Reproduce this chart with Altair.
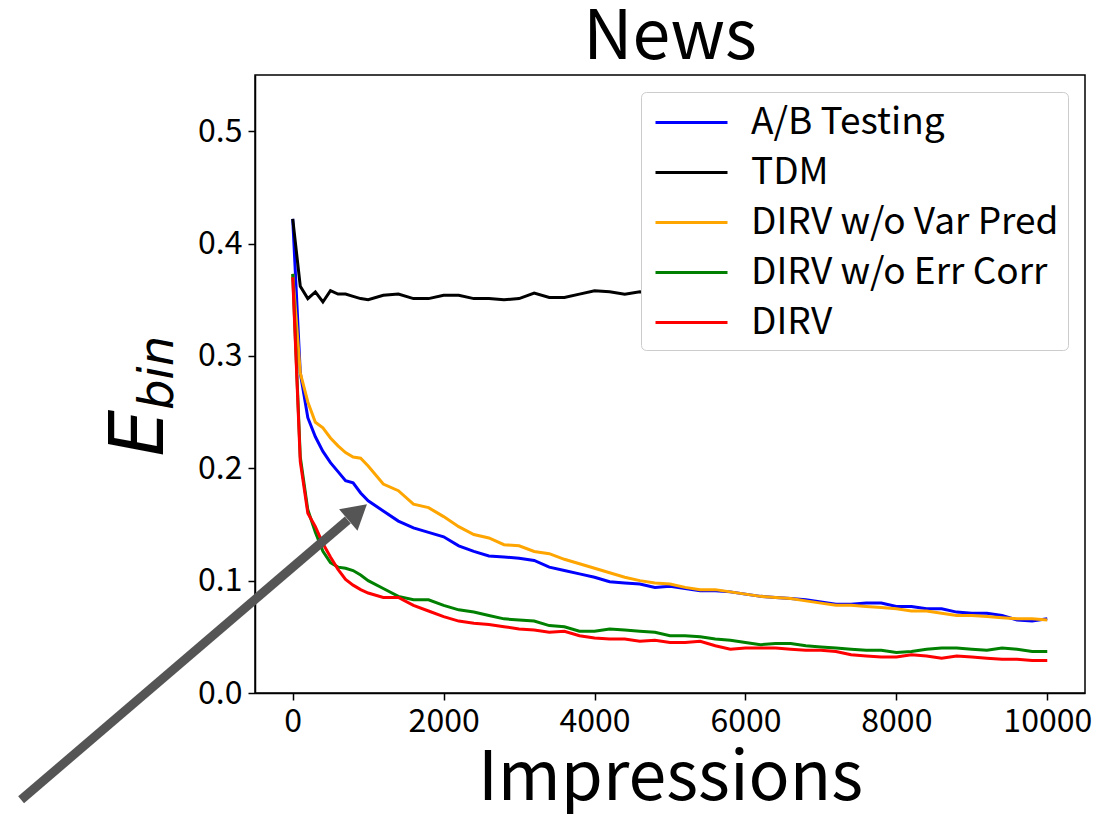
import altair as alt
import pandas as pd

IMPRESSIONS = [0, 100, 200, 300, 400, 500, 600, 700, 800, 900, 1000,
               1200, 1400, 1600, 1800, 2000, 2200, 2400, 2600, 2800, 3000,
               3200, 3400, 3600, 3800, 4000, 4200, 4400, 4600, 4800, 5000,
               5200, 5400, 5600, 5800, 6000, 6200, 6400, 6600, 6800, 7000,
               7200, 7400, 7600, 7800, 8000, 8200, 8400, 8600, 8800, 9000,
               9200, 9400, 9600, 9800, 10000]

AB_TESTING = [0.422, 0.285, 0.245, 0.228, 0.215, 0.205, 0.197, 0.189, 0.187, 0.178, 0.171,
              0.162, 0.153, 0.147, 0.143, 0.139, 0.131, 0.126, 0.122, 0.121, 0.120,
              0.118, 0.112, 0.109, 0.106, 0.103, 0.099, 0.098, 0.097, 0.094, 0.095,
              0.093, 0.091, 0.091, 0.090, 0.088, 0.086, 0.085, 0.084, 0.083, 0.081,
              0.079, 0.079, 0.080, 0.080, 0.077, 0.077, 0.075, 0.075, 0.072, 0.071,
              0.071, 0.069, 0.065, 0.064, 0.066]

TDM = [0.422, 0.362, 0.351, 0.357, 0.348, 0.358, 0.355, 0.355, 0.353, 0.351, 0.350,
       0.354, 0.355, 0.351, 0.351, 0.354, 0.354, 0.351, 0.351, 0.350, 0.351,
       0.356, 0.352, 0.352, 0.355, 0.358, 0.357, 0.355, 0.357, 0.355, 0.356,
       0.354, 0.356, 0.355, 0.354, 0.356, 0.355, 0.354, 0.356, 0.355, 0.354,
       0.355, 0.356, 0.354, 0.355, 0.356, 0.354, 0.355, 0.356, 0.355, 0.354,
       0.355, 0.356, 0.355, 0.354, 0.355]

DIRV_WO_VAR_PRED = [0.373, 0.285, 0.259, 0.241, 0.236, 0.227, 0.220, 0.214, 0.210, 0.209, 0.202,
                    0.186, 0.180, 0.168, 0.165, 0.157, 0.148, 0.141, 0.138, 0.132, 0.131,
                    0.126, 0.124, 0.119, 0.115, 0.111, 0.107, 0.103, 0.100, 0.098, 0.097,
                    0.094, 0.092, 0.092, 0.090, 0.088, 0.086, 0.085, 0.084, 0.082, 0.080,
                    0.078, 0.078, 0.077, 0.076, 0.075, 0.073, 0.073, 0.071, 0.069, 0.069,
                    0.068, 0.067, 0.066, 0.066, 0.065]

DIRV_WO_ERR_CORR = [0.373, 0.210, 0.163, 0.143, 0.126, 0.116, 0.112, 0.111, 0.109, 0.105, 0.100,
                    0.093, 0.086, 0.083, 0.083, 0.078, 0.074, 0.072, 0.069, 0.066, 0.065,
                    0.064, 0.060, 0.059, 0.055, 0.055, 0.057, 0.056, 0.055, 0.054, 0.051,
                    0.051, 0.050, 0.048, 0.047, 0.045, 0.043, 0.044, 0.044, 0.042, 0.041,
                    0.040, 0.039, 0.038, 0.038, 0.036, 0.037, 0.039, 0.040, 0.040, 0.039,
                    0.038, 0.040, 0.039, 0.037, 0.037]

DIRV = [0.370, 0.206, 0.160, 0.148, 0.133, 0.121, 0.110, 0.101, 0.096, 0.092, 0.089,
        0.085, 0.085, 0.078, 0.073, 0.068, 0.064, 0.062, 0.061, 0.059, 0.057,
        0.056, 0.054, 0.055, 0.051, 0.049, 0.048, 0.048, 0.046, 0.047, 0.045,
        0.045, 0.046, 0.042, 0.039, 0.040, 0.040, 0.040, 0.039, 0.038, 0.038,
        0.037, 0.034, 0.033, 0.032, 0.032, 0.034, 0.033, 0.031, 0.033, 0.032,
        0.031, 0.030, 0.030, 0.029, 0.029]

SERIES_NAMES = ["A/B Testing", "TDM", "DIRV w/o Var Pred", "DIRV w/o Err Corr", "DIRV"]
SERIES_COLORS = ["#0000ff", "#000000", "#ffa500", "#008000", "#ff0000"]
SERIES_VALUES = [AB_TESTING, TDM, DIRV_WO_VAR_PRED, DIRV_WO_ERR_CORR, DIRV]

X_TICKS = [0, 2000, 4000, 6000, 8000, 10000]
Y_TICKS = [0.0, 0.1, 0.2, 0.3, 0.4, 0.5]
X_DOMAIN = [-500, 10500]
Y_DOMAIN = [0.0, 0.55]

# annotation arrow (data coordinates)
ARROW_SHAFT_X = [-3600]
ARROW_SHAFT_X2 = [730]
ARROW_SHAFT_Y = [-0.095]
ARROW_SHAFT_Y2 = [0.154]
ARROW_HEAD_X = [860]
ARROW_HEAD_Y = [0.161]

FONT = "Noto Sans CJK JP"
MATH_FONT = "DejaVu Sans"

rows = []
for name, vals in zip(SERIES_NAMES, SERIES_VALUES):
    for x, v in zip(IMPRESSIONS, vals):
        rows.append({"Impressions": x, "value": v, "series": name})
df = pd.DataFrame(rows)

xscale = alt.Scale(domain=X_DOMAIN, nice=False, zero=False)
yscale = alt.Scale(domain=Y_DOMAIN, nice=False, zero=False)

lines = alt.Chart(df).mark_line(strokeWidth=3, clip=True).encode(
    x=alt.X("Impressions:Q", scale=xscale,
            axis=alt.Axis(values=X_TICKS, title="Impressions", format="d",
                          titleFontSize=68, titleFont=FONT, titleFontWeight="normal",
                          titlePadding=8, labelFontSize=32, labelFont=FONT,
                          labelPadding=6, tickSize=7, tickWidth=1.5, domainWidth=1.5,
                          domainColor="black", tickColor="black", labelColor="black",
                          titleColor="black", grid=False, labelFlush=False)),
    y=alt.Y("value:Q", scale=yscale,
            axis=alt.Axis(values=Y_TICKS, title=None, format=".1f",
                          labelFontSize=32, labelFont=FONT, labelPadding=6,
                          tickSize=7, tickWidth=1.5, domainWidth=1.5,
                          domainColor="black", tickColor="black", labelColor="black",
                          grid=False, labelFlush=False)),
    color=alt.Color("series:N",
                    scale=alt.Scale(domain=SERIES_NAMES, range=SERIES_COLORS),
                    legend=alt.Legend(title=None, orient="top-right", offset=17,
                                      fillColor="white", strokeColor="#cccccc",
                                      cornerRadius=5, padding=9,
                                      labelFont=FONT, labelFontSize=37,
                                      labelColor="black", labelOffset=38,
                                      symbolType="M-1.8,0H1.8", symbolSize=1600,
                                      symbolStrokeWidth=3, symbolOffset=20,
                                      rowPadding=10, labelLimit=500)),
    order=alt.Order("series_order:Q"),
).transform_calculate(
    series_order="indexof(" + str(SERIES_NAMES) + ", datum.series)"
)

shaft = alt.Chart(pd.DataFrame({"x": ARROW_SHAFT_X, "x2": ARROW_SHAFT_X2,
                                "y": ARROW_SHAFT_Y, "y2": ARROW_SHAFT_Y2})).mark_rule(
    color="#555555", strokeWidth=9, strokeCap="butt"
).encode(x=alt.X("x:Q", scale=xscale), x2="x2:Q",
         y=alt.Y("y:Q", scale=yscale), y2="y2:Q")

head = alt.Chart(pd.DataFrame({"x": ARROW_HEAD_X, "y": ARROW_HEAD_Y})).mark_point(
    shape="triangle-up", filled=True, size=800, angle=49.5, color="#555555", opacity=1
).encode(x=alt.X("x:Q", scale=xscale), y=alt.Y("y:Q", scale=yscale))

ytitle_e = alt.Chart(pd.DataFrame({"t": ["E"]})).mark_text(
    font=MATH_FONT, fontSize=74, fontStyle="italic", angle=270, align="center",
    baseline="alphabetic", color="black"
).encode(x=alt.value(-92), y=alt.value(358), text="t:N")

ytitle_sub = alt.Chart(pd.DataFrame({"t": ["bin"]})).mark_text(
    font=MATH_FONT, fontSize=48, fontStyle="italic", angle=270, align="center",
    baseline="alphabetic", color="black"
).encode(x=alt.value(-82), y=alt.value(298), text="t:N")

chart = alt.layer(lines, shaft, head, ytitle_e, ytitle_sub).properties(
    width=830, height=618,
    title=alt.TitleParams("News", fontSize=68, font=FONT, fontWeight="normal",
                          anchor="middle", offset=2, color="black"),
    autosize=alt.AutoSizeParams(type="none"),
    padding={"left": 247, "top": 67, "right": 13, "bottom": 121},
).configure_view(stroke="black", strokeWidth=1.5)

chart.save("out.html", embed_options={"renderer": "svg", "actions": False})
